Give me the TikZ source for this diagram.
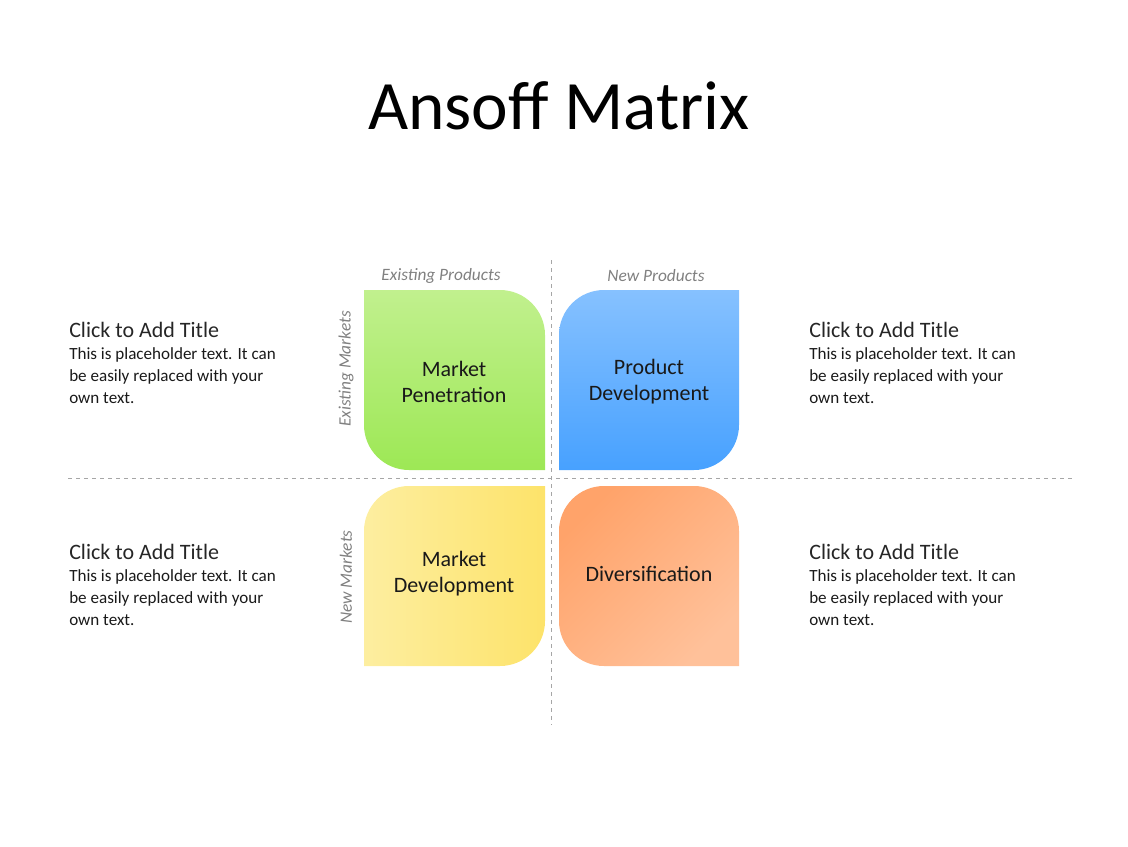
\documentclass[tikz,border=0pt]{standalone}
\usepackage{fontspec}
\setmainfont{Carlito}
\usetikzlibrary{calc}
\newcommand{\rc}[3]{($(#1)!0.552!(#2)$) and ($(#3)!0.552!(#2)$)}
\begin{document}
\begin{tikzpicture}[x=0.75pt,y=-0.75pt,
  dl/.style={gray!70,dashed,line width=0.6pt},
  ax/.style={font=\fontsize{13}{15}\selectfont\itshape,text=gray},
  lab/.style={font=\fontsize{16.5}{19.5}\selectfont,align=center,text=black!90},
  ttl/.style={anchor=base west,font=\fontsize{16.5}{18}\selectfont,text=black!85,inner sep=0},
  bd/.style={anchor=north west,font=\fontsize{12.8}{16.5}\selectfont,align=left,text=black!90,inner sep=0}]
\useasboundingbox (0,0) rectangle (1128,846);
\node[font=\fontsize{52}{56}\selectfont] (title) at (559,106) {Ansoff Matrix};
% green: rounded TR, BL
\shade[top color={rgb,255:red,193;green,240;blue,142},bottom color={rgb,255:red,157;green,232;blue,85}]
 (364,290) -- (500,290) .. controls \rc{500,290}{545,290}{545,335} .. (545,335) -- (545,470) -- (409,470)
 .. controls \rc{409,470}{364,470}{364,425} .. (364,425) -- cycle;
% blue: rounded TL, BR
\shade[top color={rgb,255:red,134;green,193;blue,255},bottom color={rgb,255:red,71;green,161;blue,255}]
 (604,290) -- (739,290) -- (739,425) .. controls \rc{739,425}{739,470}{694,470} .. (694,470) -- (559,470) -- (559,335)
 .. controls \rc{559,335}{559,290}{604,290} .. (604,290) -- cycle;
% yellow: rounded TL, BR
\shade[left color={rgb,255:red,253;green,238;blue,160},right color={rgb,255:red,253;green,227;blue,106}]
 (409,486) -- (545,486) -- (545,621) .. controls \rc{545,621}{545,666}{500,666} .. (500,666) -- (364,666) -- (364,531)
 .. controls \rc{364,531}{364,486}{409,486} .. (409,486) -- cycle;
% orange: rounded TL, TR, BL
\shade[left color={rgb,255:red,255;green,163;blue,106},right color={rgb,255:red,255;green,193;blue,154},shading angle=45]
 (604,486) -- (694,486) .. controls \rc{694,486}{739,486}{739,531} .. (739,531) -- (739,666) -- (604,666)
 .. controls \rc{604,666}{559,666}{559,621} .. (559,621) -- (559,531)
 .. controls \rc{559,531}{559,486}{604,486} .. (604,486) -- cycle;
\node[lab] (mp) at (454,382) {Market\\Penetration};
\node[lab] (pd) at (649,382) {Product\\Development};
\node[lab] (md) at (454,574) {Market\\Development};
\node[lab] (dv) at (649,574) {Diversification};
\node[ax] (ep) at (441,276) {Existing Products};
\node[ax] (np) at (656,276) {New Products};
\node[ax,rotate=90] (em) at (346,369) {Existing Markets};
\node[ax,rotate=90] (nm) at (346,577) {New Markets};
\coordinate (v1) at (551,260); \coordinate (v2) at (551,725);
\coordinate (h1) at (68,478); \coordinate (h2) at (1072,478);
\draw[dl] (v1) -- (v2);
\draw[dl] (h1) -- (h2);
\foreach \x/\y/\n in {69/337/a,809/337/b,69/559/c,809/559/d}{
  \node[ttl] (t\n) at (\x,\y) {Click to Add Title};
  \node[bd] (b\n) at (\x,\y+10) {This is placeholder\ text. It can\\be easily replaced with your\\own text.};
}
\end{tikzpicture}
\end{document}
